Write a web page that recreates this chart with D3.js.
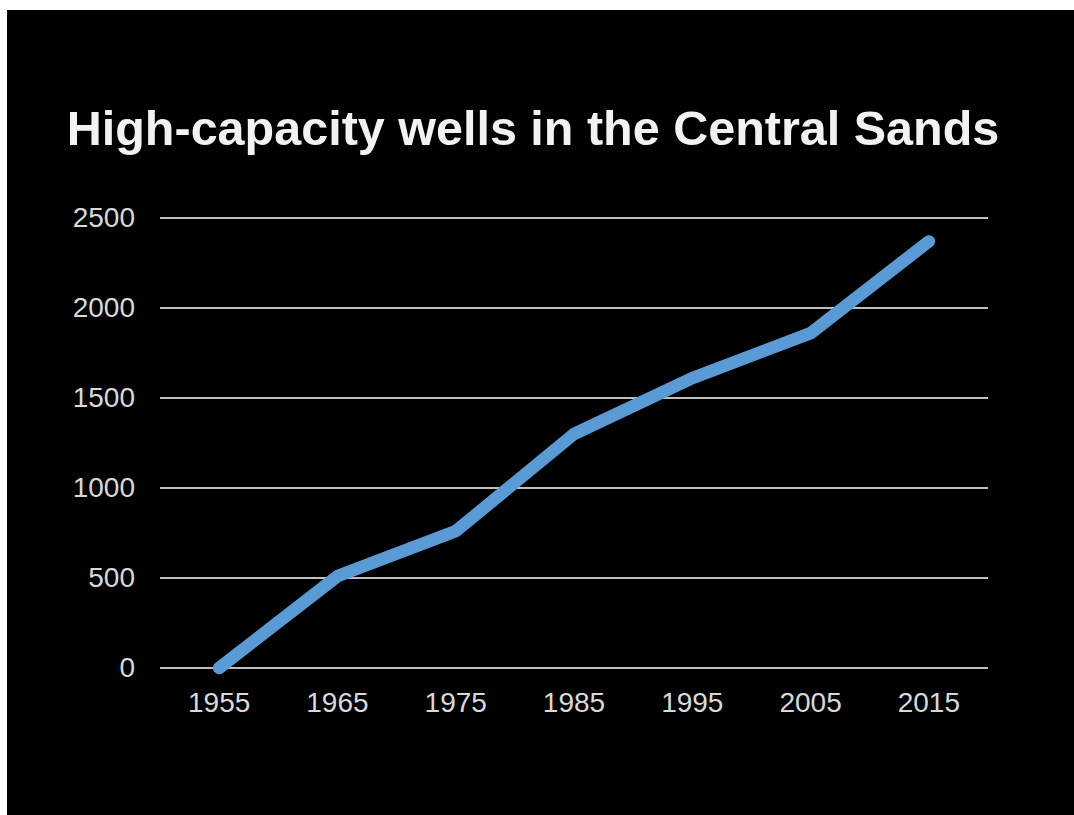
<html>
  <head>
    <style>
      body { margin: 0; background: #000; overflow: hidden; }
      svg { display: block; }
      .grid line { stroke: #bfbfbf; stroke-width: 2; }
      .tick-label { fill: #d9d9d9; font-family: "Liberation Sans", Arial, sans-serif; font-size: 28px; }
    </style>
  </head>
  <body>
    <svg></svg>
    <script src="https://d3js.org/d3.v7.min.js"></script>
    <script>
      let width = 1074,
        height = 815;

      // chart data
      let years = ["1955", "1965", "1975", "1985", "1995", "2005", "2015"];
      let wells = [0, 510, 760, 1300, 1610, 1860, 2370];
      let yTicks = [0, 500, 1000, 1500, 2000, 2500];

      let svg = d3.select("svg").attr("width", width).attr("height", height);

      // black slide with a thin white margin top and left
      svg.append("rect")
        .attr("width", width)
        .attr("height", height)
        .attr("fill", "#000");
      svg.append("rect")
        .attr("width", width)
        .attr("height", 10)
        .attr("fill", "#fff");
      svg.append("rect")
        .attr("width", 7)
        .attr("height", height)
        .attr("fill", "#fff");

      svg.append("text")
        .attr("x", 533)
        .attr("y", 145)
        .attr("text-anchor", "middle")
        .attr("fill", "#f2f2f2")
        .attr("font-family", "'Liberation Sans', Arial, sans-serif")
        .attr("font-weight", "bold")
        .attr("font-size", 48.5)
        .text("High-capacity wells in the Central Sands");

      let x = d3.scalePoint().domain(years).range([160, 988]).padding(0.5);
      let y = d3.scaleLinear().domain([0, 2500]).range([668, 218]);

      // gridlines
      svg.append("g")
        .attr("class", "grid")
        .selectAll("line")
        .data(yTicks)
        .enter()
        .append("line")
        .attr("x1", 160)
        .attr("x2", 988)
        .attr("y1", (d) => y(d))
        .attr("y2", (d) => y(d));

      // y labels
      svg.append("g")
        .selectAll("text")
        .data(yTicks)
        .enter()
        .append("text")
        .attr("class", "tick-label")
        .attr("x", 135)
        .attr("y", (d) => y(d) + 9)
        .attr("text-anchor", "end")
        .text((d) => d);

      // x labels
      svg.append("g")
        .selectAll("text")
        .data(years)
        .enter()
        .append("text")
        .attr("class", "tick-label")
        .attr("x", (d) => x(d))
        .attr("y", 712)
        .attr("text-anchor", "middle")
        .text((d) => d);

      let line = d3.line()
        .x((d, i) => x(years[i]))
        .y((d) => y(d));

      svg.append("path")
        .datum(wells)
        .attr("d", line)
        .attr("fill", "none")
        .attr("stroke", "#5b9bd5")
        .attr("stroke-width", 12.5)
        .attr("stroke-linejoin", "round")
        .attr("stroke-linecap", "round");
    </script>
  </body>
</html>
